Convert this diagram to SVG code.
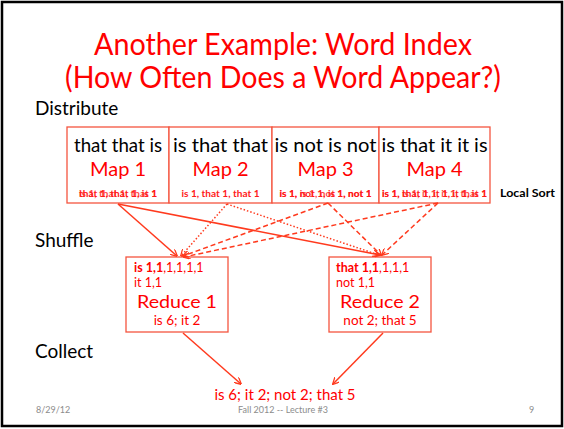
<svg xmlns="http://www.w3.org/2000/svg" width="564" height="429" viewBox="0 0 564 429">
<style>
text{font-family:Lato,"Liberation Sans",sans-serif}
.t{fill:#ff0000}
.k{fill:#000000}
.box{fill:#ffffff;stroke:#f4553f;stroke-width:1.3}
.sm{font-size:9px;font-weight:bold;fill:#ff1a1a}
.c{stroke:#ff3a1e;stroke-width:1.5;fill:none}
.dot{stroke-dasharray:1.5 2}
.dash{stroke-dasharray:5 3}
.lab{font-size:19px}
.ft{font-size:9px;fill:#8c8c8c}
.rl{font-size:12.5px;fill:#ff0000}
</style>
<defs>
<marker id="ah" viewBox="0 0 10 10" refX="9" refY="5" markerWidth="7" markerHeight="7" orient="auto" markerUnits="userSpaceOnUse">
<path d="M0,0 L10,5 L0,10" fill="none" stroke="#ff3a1e" stroke-width="1.8"/>
</marker>
</defs>
<rect x="0" y="0" width="564" height="429" fill="#ffffff"/>
<rect x="2" y="2" width="560" height="424" fill="none" stroke="#000" stroke-width="2.5"/>

<g id="title">
<text x="283" y="55" text-anchor="middle" font-size="30" class="t" textLength="378" lengthAdjust="spacingAndGlyphs">Another Example: Word Index</text>
<text x="283" y="88" text-anchor="middle" font-size="30" class="t" textLength="436" lengthAdjust="spacingAndGlyphs">(How Often Does a Word Appear?)</text>
</g>
<g id="stage-labels">
<text x="35" y="115" class="k lab">Distribute</text>
<text x="35" y="247" class="k lab">Shuffle</text>
<text x="35" y="358" class="k lab">Collect</text>
<text x="500" y="197" font-size="11.5" font-weight="bold" class="k" textLength="55" lengthAdjust="spacingAndGlyphs">Local Sort</text>
</g>

<g id="map1">
<rect class="box" x="67" y="127" width="102" height="76"/>
<text x="118" y="152" text-anchor="middle" class="k lab" textLength="88" lengthAdjust="spacingAndGlyphs">that that is</text>
<text x="118" y="176" text-anchor="middle" class="t" font-size="20">Map 1</text>
<text x="118" y="197" text-anchor="middle" class="sm" textLength="78" lengthAdjust="spacingAndGlyphs">that 1, that 1, is 1</text>
<text x="118" y="197" text-anchor="middle" class="sm" textLength="78" lengthAdjust="spacingAndGlyphs" opacity="0.8">is 1, that 1, that 1</text>
</g>
<g id="map2">
<rect class="box" x="169" y="127" width="103" height="76"/>
<text x="220.5" y="152" text-anchor="middle" class="k lab" textLength="95" lengthAdjust="spacingAndGlyphs">is that that</text>
<text x="220.5" y="176" text-anchor="middle" class="t" font-size="20">Map 2</text>
<text x="220.5" y="197" text-anchor="middle" class="sm" textLength="78" lengthAdjust="spacingAndGlyphs">is 1, that 1, that 1</text>
</g>
<g id="map3">
<rect class="box" x="272" y="127" width="107" height="76"/>
<text x="325.5" y="152" text-anchor="middle" class="k lab" textLength="102" lengthAdjust="spacingAndGlyphs">is not is not</text>
<text x="325.5" y="176" text-anchor="middle" class="t" font-size="20">Map 3</text>
<text x="325.5" y="197" text-anchor="middle" class="sm" textLength="92" lengthAdjust="spacingAndGlyphs">is 1, not 1, is 1, not 1</text>
<text x="325.5" y="197" text-anchor="middle" class="sm" textLength="92" lengthAdjust="spacingAndGlyphs" opacity="0.8">is 1, is 1, not 1, not 1</text>
</g>
<g id="map4">
<rect class="box" x="379" y="127" width="111" height="76"/>
<text x="434.5" y="152" text-anchor="middle" class="k lab" textLength="106" lengthAdjust="spacingAndGlyphs">is that it it is</text>
<text x="434.5" y="176" text-anchor="middle" class="t" font-size="20">Map 4</text>
<text x="434.5" y="197" text-anchor="middle" class="sm" textLength="105" lengthAdjust="spacingAndGlyphs">is 1, that 1, it 1, it 1, is 1</text>
<text x="434.5" y="197" text-anchor="middle" class="sm" textLength="105" lengthAdjust="spacingAndGlyphs" opacity="0.8">is 1, is 1, it 1, it 1, that 1</text>
</g>

<g id="reduce1">
<rect class="box" x="126" y="257" width="102" height="75"/>
<text x="134" y="272" class="rl"><tspan font-weight="bold">is 1,1</tspan>,1,1,1,1</text>
<text x="134" y="287" class="rl">it 1,1</text>
<text x="177" y="307.5" text-anchor="middle" font-size="18" class="t" textLength="80" lengthAdjust="spacingAndGlyphs">Reduce 1</text>
<text x="177" y="325" text-anchor="middle" font-size="13.5" class="t">is 6; it 2</text>
</g>
<g id="reduce2">
<rect class="box" x="329" y="257" width="102" height="75"/>
<text x="336" y="272" class="rl"><tspan font-weight="bold">that 1,1</tspan>,1,1,1</text>
<text x="336" y="287" class="rl">not 1,1</text>
<text x="380" y="307.5" text-anchor="middle" font-size="18" class="t" textLength="80" lengthAdjust="spacingAndGlyphs">Reduce 2</text>
<text x="380" y="325" text-anchor="middle" font-size="13.5" class="t">not 2; that 5</text>
</g>
<g id="result">
<text x="285" y="400" text-anchor="middle" font-size="15" class="t">is 6; it 2; not 2; that 5</text>
</g>

<g id="connectors">
<line class="c" x1="118" y1="204" x2="177" y2="256" marker-end="url(#ah)"/>
<line class="c" x1="118" y1="204" x2="380" y2="255" marker-end="url(#ah)"/>
<line class="c dot" x1="227" y1="204" x2="181" y2="256" marker-end="url(#ah)"/>
<line class="c dot" x1="227" y1="204" x2="379" y2="255" marker-end="url(#ah)"/>
<line class="c dash" x1="328" y1="203" x2="183" y2="256" marker-end="url(#ah)"/>
<line class="c dash" x1="328" y1="203" x2="381" y2="255" marker-end="url(#ah)"/>
<line class="c dash" x1="438" y1="203" x2="184" y2="257" marker-end="url(#ah)"/>
<line class="c dash" x1="438" y1="203" x2="382" y2="255" marker-end="url(#ah)"/>
<line class="c" x1="183" y1="333" x2="241" y2="384" marker-end="url(#ah)"/>
<line class="c" x1="383" y1="333" x2="333" y2="384" marker-end="url(#ah)"/>
</g>

<g id="footer">
<text x="36" y="413" class="ft">8/29/12</text>
<text x="283" y="413" text-anchor="middle" class="ft">Fall 2012 -- Lecture #3</text>
<text x="529" y="413" class="ft">9</text>
</g>
</svg>
